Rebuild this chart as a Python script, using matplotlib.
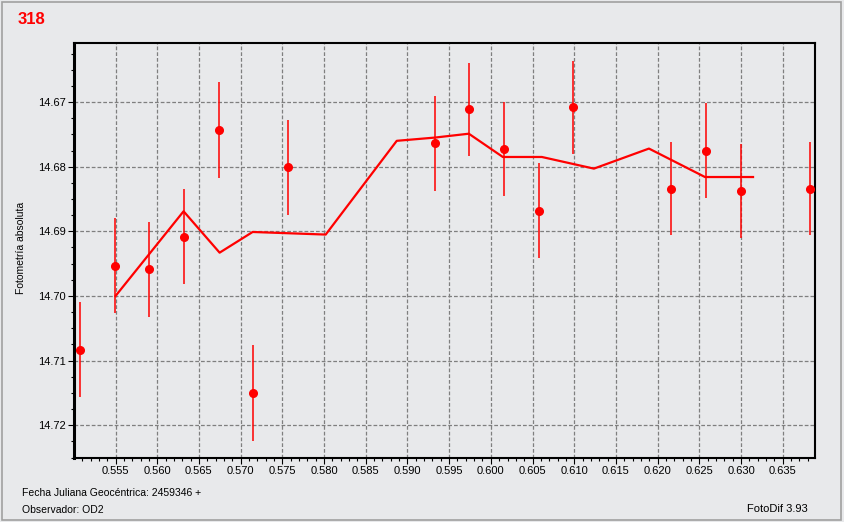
#!/usr/bin/env python3
"""Light curve 318 - FotoDif style plot."""
import matplotlib
matplotlib.use("Agg")
import matplotlib.pyplot as plt
from matplotlib.patches import Rectangle
from matplotlib.ticker import MultipleLocator, FormatStrFormatter

BG = "#e8e9eb"
RED = "#ff0000"
GRID = "#7f7f7f"

# observations (fractional JD, magnitude, error)
jd = [0.55068, 0.55492, 0.55896, 0.56316, 0.56736, 0.57152, 0.57567,
      0.59328, 0.59736, 0.60156, 0.60579, 0.60980, 0.62159, 0.62580,
      0.63000, 0.63827]
mag = [14.7083, 14.6953, 14.6959, 14.6908, 14.6743, 14.7150, 14.6801,
       14.6764, 14.6711, 14.6773, 14.6868, 14.6708, 14.6834, 14.6775,
       14.6838, 14.6834]
err = [0.0074, 0.0074, 0.0074, 0.0074, 0.0074, 0.0074, 0.0073,
       0.0073, 0.0072, 0.0073, 0.0073, 0.0072, 0.0072, 0.0073,
       0.0073, 0.0072]

# smoothed curve
curve_jd = [0.5550, 0.56316, 0.56748, 0.57144, 0.58020, 0.58872, 0.59328,
            0.59736, 0.60144, 0.60612, 0.61236, 0.61896, 0.62568, 0.63144]
curve_mag = [14.7000, 14.6869, 14.6933, 14.6901, 14.6905, 14.6760, 14.6755,
             14.6749, 14.6785, 14.6785, 14.6803, 14.6772, 14.6816, 14.6816]

plt.rcParams.update({
    "font.family": ["Liberation Sans", "DejaVu Sans"],
    "font.size": 8,
})

fig = plt.figure(figsize=(8.44, 5.22), dpi=100, facecolor=BG)
ax = fig.add_axes([74 / 844, 64 / 522, 741 / 844, 415 / 522], facecolor=BG)

ax.grid(True, which="major", color=GRID, linestyle=(0, (3, 1.6)), linewidth=0.9)
ax.set_axisbelow(True)

ax.plot(curve_jd, curve_mag, color=RED, linewidth=1.6, zorder=3)
ax.errorbar(jd, mag, yerr=err, fmt="o", color=RED, ecolor=RED,
            elinewidth=1.1, markersize=5.5, capsize=0, zorder=4)

# magnitudes: brighter at the top
ax.set_xlim(0.55002, 0.63887)
ax.set_ylim(14.72506, 14.66087)

ax.xaxis.set_major_locator(MultipleLocator(0.005))
ax.xaxis.set_minor_locator(MultipleLocator(0.001))
ax.xaxis.set_major_formatter(FormatStrFormatter("%.3f"))
ax.yaxis.set_major_locator(MultipleLocator(0.01))
ax.yaxis.set_minor_locator(MultipleLocator(0.0025))
ax.yaxis.set_major_formatter(FormatStrFormatter("%.2f"))

ax.tick_params(which="major", length=4, width=0.8, color="black", pad=2,
               labelsize=8)
ax.tick_params(which="minor", length=2.2, width=0.8, color="black")
for s in ax.spines.values():
    s.set_linewidth(1.5)
    s.set_color("black")
ax.spines["left"].set_linewidth(2.2)

fig.text(21 / 844, 1 - 248 / 522, "Fotometría absoluta", rotation=90,
         ha="center", va="center", fontsize=7.5)
fig.text(18 / 844, 1 - 19 / 522, "318", color=RED, fontsize=12,
         fontweight="bold", ha="left", va="center")
fig.text(22 / 844, 1 - 493 / 522, "Fecha Juliana Geocéntrica: 2459346 +",
         fontsize=7.5, ha="left", va="center")
fig.text(22 / 844, 1 - 510 / 522, "Observador: OD2",
         fontsize=7.5, ha="left", va="center")
fig.text(808 / 844, 1 - 509 / 522, "FotoDif 3.93",
         fontsize=8, ha="right", va="center")

fig.patches.append(Rectangle((0.002, 0.003), 0.994, 0.994, transform=fig.transFigure,
                             fill=False, edgecolor="#a0a0a0", linewidth=1.2))

fig.savefig("out.png", dpi=100, facecolor=BG)
